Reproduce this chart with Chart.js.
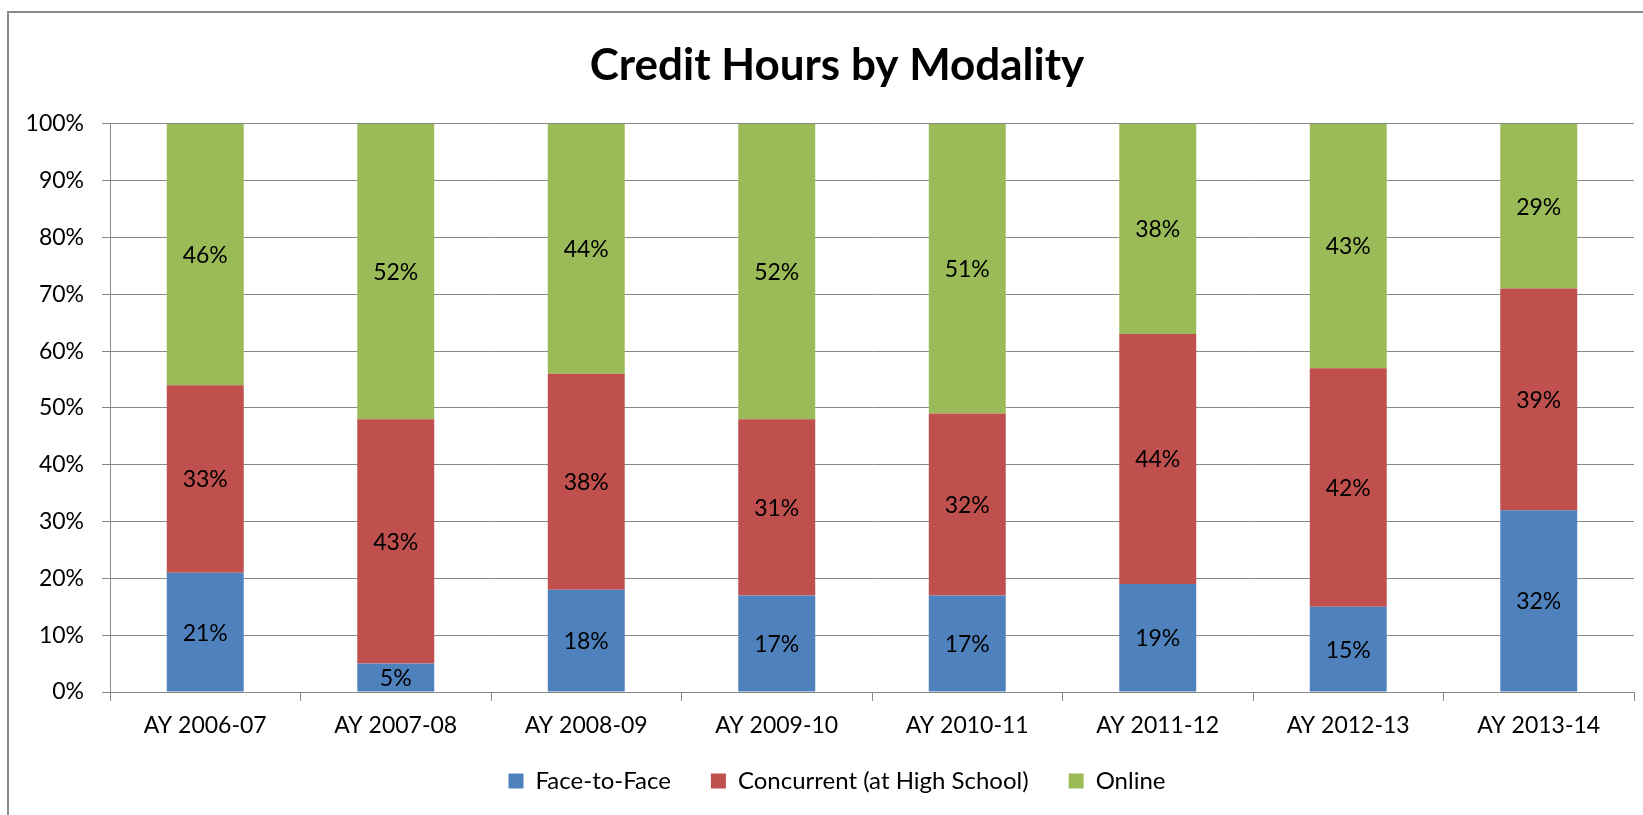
<!DOCTYPE html>
<html>
<head>
<meta charset="utf-8">
<title>Credit Hours by Modality</title>
<script src="https://cdn.jsdelivr.net/npm/chart.js@4/dist/chart.umd.min.js"></script>
<style>
    html, body { margin: 0; padding: 0; background: #fff; }
    #wrap { position: relative; width: 1643px; height: 815px; overflow: hidden; }
    #frame {
        position: absolute; left: 7px; top: 11px; right: -10px; bottom: -10px;
        border-left: 2px solid #8a8a8a; border-top: 2px solid #8a8a8a;
    }
    canvas { position: absolute; left: 0; top: 0; }
</style>
</head>
<body>
<div id="wrap">
    <div id="frame"></div>
    <canvas id="modalityChart" width="1643" height="815"></canvas>
</div>
<script>
const years = ["AY 2006-07", "AY 2007-08", "AY 2008-09", "AY 2009-10",
               "AY 2010-11", "AY 2011-12", "AY 2012-13", "AY 2013-14"];

// share of credit hours, percent
const faceToFace = [21, 5, 18, 17, 17, 19, 15, 32];
const concurrent = [33, 43, 38, 31, 32, 44, 42, 39];
const online     = [46, 52, 44, 52, 51, 38, 43, 29];

const yTicks = [0, 10, 20, 30, 40, 50, 60, 70, 80, 90, 100];

const FONT = "Lato, 'Open Sans', sans-serif";
const AXIS_GRAY = "#888888";
const PAD_LEFT = 40;   // shifts title/legend centre to the right a bit

// scales clip their labels to their own box by default; the boxes here are
// sized tighter than the text, so let the labels spill over
function unclipLabels(scale) {
    scale._computeLabelArea = () => undefined;
}

// writes each segment's value in the middle of its visible part
const segmentLabels = {
    id: "segmentLabels",
    afterDatasetsDraw(chart) {
        const ctx = chart.ctx;
        const area = chart.chartArea;
        ctx.save();
        ctx.font = "23px " + FONT;
        ctx.fillStyle = "#000";
        ctx.textAlign = "center";
        ctx.textBaseline = "middle";
        chart.data.datasets.forEach((ds, i) => {
            const meta = chart.getDatasetMeta(i);
            meta.data.forEach((bar, j) => {
                const p = bar.getProps(["x", "y", "base"], true);
                const top = Math.max(Math.min(p.y, p.base), area.top);
                const bottom = Math.max(p.y, p.base);
                ctx.fillText(ds.data[j] + "%", p.x, (top + bottom) / 2 + 1);
            });
        });
        ctx.restore();
    }
};

const ctx = document.getElementById("modalityChart").getContext("2d");
const chart = new Chart(ctx, {
    type: "bar",
    data: {
        labels: years,
        datasets: [
            { label: "Face-to-Face", data: faceToFace, backgroundColor: "#4F81BD" },
            { label: "Concurrent (at High School)", data: concurrent, backgroundColor: "#C0504D" },
            { label: "Online", data: online, backgroundColor: "#9BBB59" }
        ]
    },
    options: {
        responsive: false,
        animation: false,
        events: [],
        layout: { padding: { left: PAD_LEFT, right: 9, top: 0, bottom: 12 } },
        datasets: {
            bar: { categoryPercentage: 1.0, barPercentage: 0.404, borderWidth: 0 }
        },
        plugins: {
            title: {
                display: true,
                text: "Credit Hours by Modality",
                color: "#000",
                font: { family: FONT, size: 44, weight: "bold" },
                padding: { top: 39, bottom: 32 }
            },
            legend: {
                position: "bottom",
                labels: {
                    color: "#000",
                    font: { family: FONT, size: 24 },
                    boxWidth: 15,
                    boxHeight: 15,
                    padding: 40
                }
            },
            tooltip: { enabled: false }
        },
        scales: {
            x: {
                stacked: true,
                grid: {
                    display: true,
                    drawOnChartArea: false,
                    offset: true,
                    tickLength: 9,
                    color: AXIS_GRAY
                },
                border: { color: AXIS_GRAY },
                ticks: {
                    color: "#000",
                    font: { family: FONT, size: 23 },
                    padding: 11,
                    maxRotation: 0
                },
                afterFit(scale) {
                    scale.height = 37;
                    unclipLabels(scale);
                }
            },
            y: {
                stacked: true,
                min: 0,
                max: 100,
                afterBuildTicks(scale) {
                    scale.ticks = yTicks.map(v => ({ value: v }));
                },
                ticks: {
                    color: "#000",
                    font: { family: FONT, size: 23 },
                    padding: 18,
                    callback: v => v + "%"
                },
                grid: { color: AXIS_GRAY, tickLength: 8 },
                border: { color: AXIS_GRAY },
                afterFit(scale) {
                    scale.width = 110 - PAD_LEFT;
                    unclipLabels(scale);
                }
            }
        }
    },
    plugins: [segmentLabels]
});
</script>
</body>
</html>
